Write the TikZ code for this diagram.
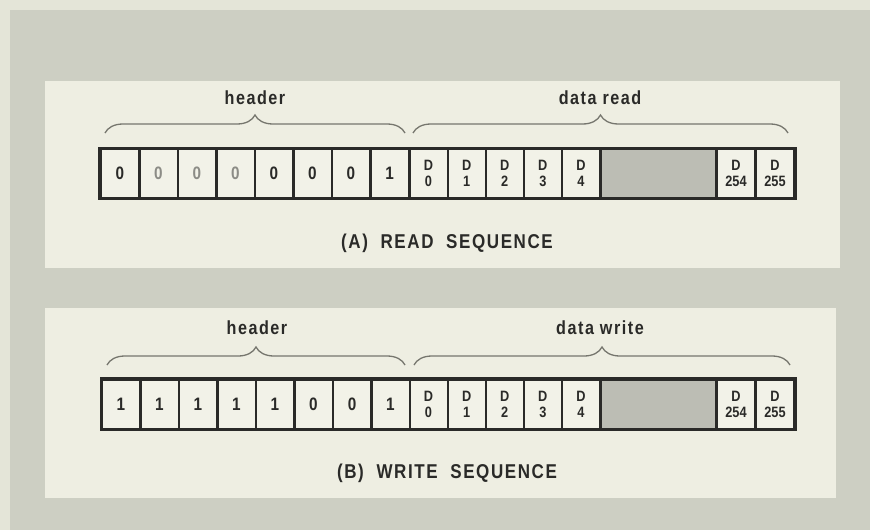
\documentclass[tikz,border=0pt]{standalone}
\usepackage{fontspec}
\setmainfont{Liberation Sans}
\newfontfamily\seqfont[FakeStretch=0.85]{Liberation Sans}
\usetikzlibrary{decorations.pathreplacing}

\definecolor{scangray}{RGB}{205,207,195}
\definecolor{scanedge}{RGB}{228,229,216}
\definecolor{panelcream}{RGB}{238,238,226}
\definecolor{cellcream}{RGB}{242,242,232}
\definecolor{fillgray}{RGB}{188,189,180}
\definecolor{inkdark}{RGB}{42,42,40}
\definecolor{fadedink}{RGB}{140,140,134}
\definecolor{bracegray}{RGB}{118,118,110}

\begin{document}
\begin{tikzpicture}[
    x=1pt, y=-1pt,
    % Estilos de fondo
    panel/.style={fill=panelcream},
    strip frame/.style={fill=inkdark},
    % Estilos de celdas
    bit cell/.style={fill=cellcream, minimum width=36pt, minimum height=47pt, inner sep=0pt,
        font=\seqfont\bfseries\fontsize{18}{18}\selectfont},
    data cell/.style={bit cell, align=center, text=inkdark,
        font=\seqfont\bfseries\fontsize{15}{16}\selectfont},
    gap cell/.style={fill=fillgray, minimum width=113pt, minimum height=47pt, inner sep=0pt},
    % Estilos de llaves y textos
    field brace/.style={decorate, decoration={brace, amplitude=18pt}, draw=bracegray, line width=1.3pt},
    field label/.style={font=\seqfont\bfseries\fontsize{19}{19}\selectfont\addfontfeature{LetterSpace=8}, text=inkdark},
    seq caption/.style={font=\seqfont\bfseries\fontsize{20}{20}\selectfont\addfontfeature{LetterSpace=8}, text=inkdark}
]
    \useasboundingbox (0,0) rectangle (870,530);

    % =========================================================================
    % 1. Fondo escaneado y paneles
    % =========================================================================
    \fill[scanedge] (0,0) rectangle (870,530);
    \fill[scangray] (10,10) rectangle (870,530);
    \fill[panel] (45,81) rectangle (840,268);
    \fill[panel] (45,308) rectangle (836,498);

    % =========================================================================
    % 2. (A) Secuencia de lectura
    % =========================================================================
    \fill[strip frame] (98,147) rectangle (797,200);
    \foreach \b/\c [count=\i] in {0/inkdark, 0/fadedink, 0/fadedink, 0/fadedink,
                                  0/inkdark, 0/inkdark, 0/inkdark, 1/inkdark} {
        \node[bit cell, text=\c] (hA\i) at ({120+38.5*(\i-1)},173.5) {\b};
    }
    \foreach \k in {0,...,4} {
        \node[data cell] (dA\k) at ({428.5+38.1*\k},173.5) {D\\\k};
    }
    \node[gap cell] (gapA) at (658.5,173.5) {};
    \node[data cell] (dA254) at (736,173.5) {D\\254};
    \node[data cell] (dA255) at (775,173.5) {D\\255};

    \coordinate (hbA1) at (105,133);
    \coordinate (hbA2) at (405,133);
    \coordinate (dbA1) at (413,133);
    \coordinate (dbA2) at (788,133);
    \draw[field brace] (hbA1) -- (hbA2);
    \draw[field brace] (dbA1) -- (dbA2);
    \node[field label] (hdrA) at (255,98) {header};
    \node[field label] (datA) at (600,98) {data read};

    \node[seq caption] (capA) at (447,243) {(A)\ \ READ\ \ SEQUENCE};

    % =========================================================================
    % 3. (B) Secuencia de escritura
    % =========================================================================
    \fill[strip frame] (100,377) rectangle (797,431);
    \foreach \b [count=\i] in {1,1,1,1,1,0,0,1} {
        \node[bit cell, text=inkdark] (hB\i) at ({121+38.5*(\i-1)},404) {\b};
    }
    \foreach \k in {0,...,4} {
        \node[data cell] (dB\k) at ({428.5+38.1*\k},404) {D\\\k};
    }
    \node[gap cell] (gapB) at (658.5,404) {};
    \node[data cell] (dB254) at (736,404) {D\\254};
    \node[data cell] (dB255) at (775,404) {D\\255};

    \coordinate (hbB1) at (107,365);
    \coordinate (hbB2) at (405,365);
    \coordinate (dbB1) at (414,365);
    \coordinate (dbB2) at (790,365);
    \draw[field brace] (hbB1) -- (hbB2);
    \draw[field brace] (dbB1) -- (dbB2);
    \node[field label] (hdrB) at (257,328) {header};
    \node[field label] (datB) at (600,328) {data write};

    \node[seq caption] (capB) at (447,473) {(B)\ \ WRITE\ \ SEQUENCE};
\end{tikzpicture}
\end{document}
